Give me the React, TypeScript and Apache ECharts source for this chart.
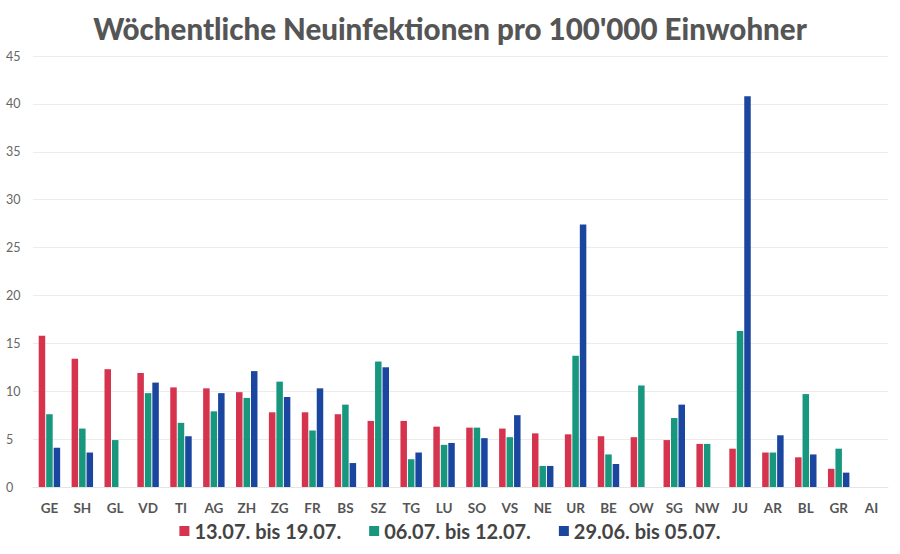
import React, { useEffect, useRef } from "react";
import * as echarts from "echarts";

const categories = ["GE","SH","GL","VD","TI","AG","ZH","ZG","FR","BS","SZ","TG","LU","SO","VS","NE","UR","BE","OW","SG","NW","JU","AR","BL","GR","AI"];
const week1 = [15.8,13.4,12.3,11.9,10.4,10.3,9.9,7.8,7.8,7.6,6.9,6.9,6.3,6.2,6.1,5.6,5.5,5.3,5.2,4.9,4.5,4.0,3.6,3.1,1.9,0];
const week2 = [7.6,6.1,4.9,9.8,6.7,7.9,9.3,11.0,5.9,8.6,13.1,2.9,4.4,6.2,5.2,2.2,13.7,3.4,10.6,7.2,4.5,16.3,3.6,9.7,4.0,0];
const week3 = [4.1,3.6,0,10.9,5.3,9.8,12.1,9.4,10.3,2.5,12.5,3.6,4.6,5.1,7.5,2.2,27.4,2.4,0,8.6,0,40.8,5.4,3.4,1.5,0];
const seriesNames = ["13.07. bis 19.07.","06.07. bis 12.07.","29.06. bis 05.07."];
const colors = ["#D6334E","#18977F","#1A46A0"];

export default function App() {
  const ref = useRef<HTMLDivElement>(null);
  useEffect(() => {
    const chart = echarts.init(ref.current!, null, { renderer: "svg" });
    const datasets = [week1, week2, week3];
    chart.setOption({
      animation: false,
      backgroundColor: "#ffffff",
      textStyle: { fontFamily: "Lato" },
      title: {
        text: "Wöchentliche Neuinfektionen pro 100'000 Einwohner",
        left: "center",
        top: 8,
        textStyle: { fontFamily: "Lato", fontWeight: 900, fontSize: 29.5, color: "#555555" },
      },
      legend: {
        bottom: 8,
        left: "center",
        itemWidth: 10,
        itemHeight: 10,
        itemGap: 28,
        icon: "rect",
        textStyle: { fontFamily: "Lato", fontWeight: "bold", fontSize: 20, color: "#444444" },
        data: seriesNames,
      },
      grid: { left: 33, right: 12, top: 56, bottom: 67, containLabel: false },
      xAxis: {
        type: "category",
        data: categories,
        axisLine: { show: true, lineStyle: { color: "#e4e4e4" } },
        axisTick: { show: false },
        axisLabel: { fontFamily: "Lato", fontWeight: "bold", fontSize: 13.5, color: "#555555", margin: 14 },
      },
      yAxis: {
        type: "value",
        min: 0,
        max: 45,
        interval: 5,
        axisLine: { show: false },
        axisTick: { show: false },
        axisLabel: { fontFamily: "Lato", fontSize: 12.5, color: "#666666", align: "left", margin: 27 },
        splitLine: { lineStyle: { color: "#ececec" } },
      },
      series: datasets.map((d, i) => ({
        name: seriesNames[i],
        type: "bar",
        data: d,
        barWidth: 6.5,
        barGap: "15%",
        itemStyle: { color: colors[i] },
      })),
    });
    return () => chart.dispose();
  }, []);
  return <div ref={ref} style={{ width: 900, height: 554, position: "absolute", left: 0, top: 0 }} />;
}
